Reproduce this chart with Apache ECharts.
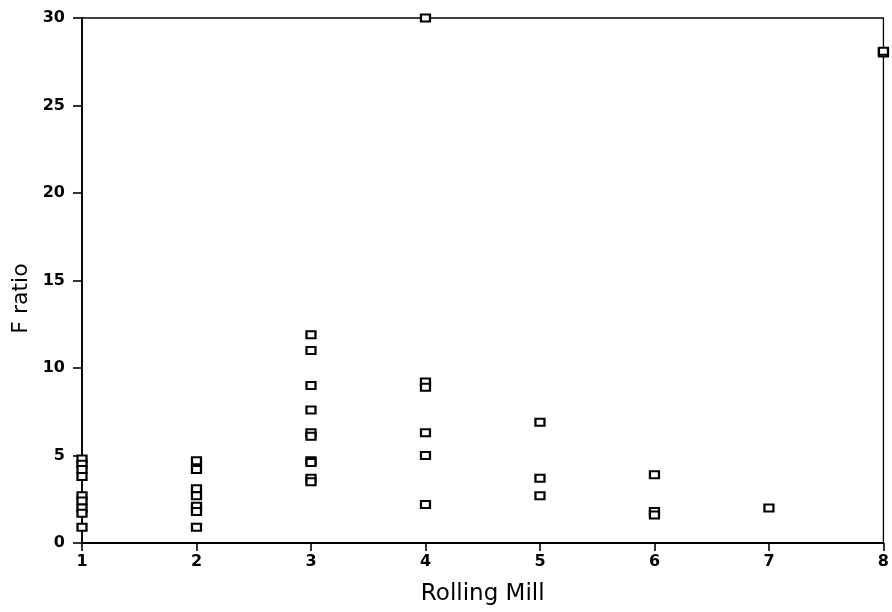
<!DOCTYPE html>
<html>
<head>
<meta charset="utf-8">
<script src="https://cdn.jsdelivr.net/npm/echarts@6/dist/echarts.min.js"></script>
<style>html,body{margin:0;padding:0;background:#fff}#c{width:892px;height:612px}</style>
</head>
<body>
<div id="c"></div>
<script>
// F ratio values read per rolling mill
var mills = [1, 2, 3, 4, 5, 6, 7, 8];
var mill1 = [4.8, 4.5, 4.2, 3.8, 2.7, 2.4, 2.0, 1.7, 0.9];
var mill2 = [4.7, 4.2, 3.1, 2.7, 2.1, 1.8, 0.9];
var mill3 = [11.9, 11.0, 9.0, 7.6, 6.3, 6.1, 4.7, 4.6, 3.7, 3.5];
var mill4 = [30.0, 9.2, 8.9, 6.3, 5.0, 2.2];
var mill5 = [6.9, 3.7, 2.7];
var mill6 = [3.9, 1.8, 1.6];
var mill7 = [2.0];
var mill8 = [28.0, 28.1];
var yTicks = [0, 5, 10, 15, 20, 25, 30];

var groups = [mill1, mill2, mill3, mill4, mill5, mill6, mill7, mill8];
var points = [];
groups.forEach(function (g, i) {
  g.forEach(function (v) { points.push([mills[i], v]); });
});

var chart = echarts.init(document.getElementById('c'), null, {renderer: 'canvas'});
var font = 'DejaVu Sans, Verdana, sans-serif';
chart.setOption({
  animation: false,
  backgroundColor: '#fff',
  grid: {left: 82, right: 5, top: 18, bottom: 69, show: true, borderColor: '#000', borderWidth: 1.3, backgroundColor: 'transparent'},
  xAxis: {
    type: 'value', min: 1, max: 8, interval: 1,
    name: 'Rolling Mill', nameLocation: 'middle', nameGap: 40,
    nameTextStyle: {fontFamily: font, fontSize: 23, color: '#000'},
    axisLine: {lineStyle: {color: '#000', width: 1.8}},
    axisTick: {inside: false, length: 8, lineStyle: {color: '#000', width: 1.6}},
    axisLabel: {fontFamily: font, fontSize: 16, fontWeight: 'bold', color: '#000', margin: 11},
    splitLine: {show: false}
  },
  yAxis: {
    type: 'value', min: yTicks[0], max: yTicks[yTicks.length - 1], interval: 5,
    name: 'F ratio', nameLocation: 'middle', nameGap: 49,
    nameTextStyle: {fontFamily: font, fontSize: 22, color: '#000', padding: [0, 36, 0, 0]},
    axisLine: {lineStyle: {color: '#000', width: 1.8}},
    axisTick: {inside: false, length: 9, lineStyle: {color: '#000', width: 1.6}},
    axisLabel: {fontFamily: font, fontSize: 16, fontWeight: 'bold', color: '#000', margin: 17},
    splitLine: {show: false}
  },
  series: [{
    type: 'scatter',
    data: points,
    symbol: 'rect',
    symbolSize: [9, 7],
    clip: false,
    itemStyle: {color: '#fff', borderColor: '#000', borderWidth: 2, opacity: 1}
  }]
});
</script>
</body>
</html>
